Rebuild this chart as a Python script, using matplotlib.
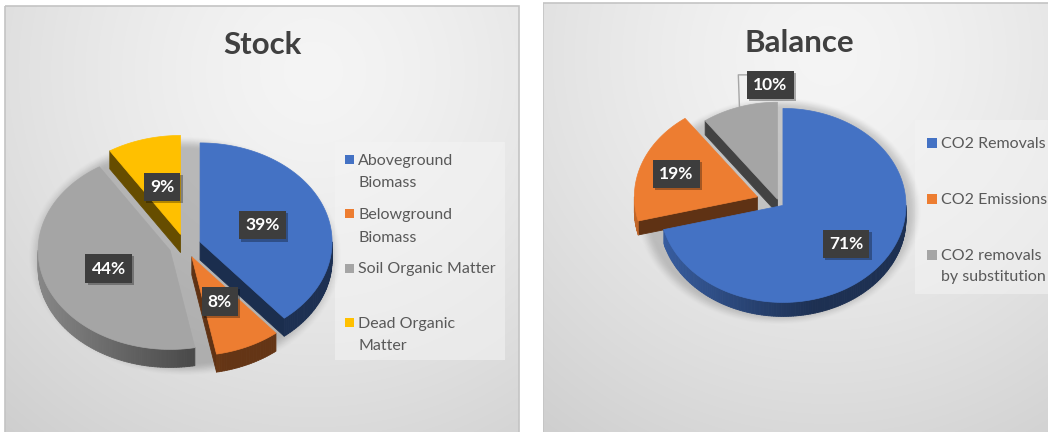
import numpy as np
import matplotlib
matplotlib.use('Agg')
import matplotlib.pyplot as plt
from matplotlib.patches import Polygon, Rectangle
from matplotlib.collections import PolyCollection
from matplotlib.colors import to_rgb
import matplotlib.patheffects as pe

# ---------------- data ----------------
stock_title = 'Stock'
stock_labels = ['Aboveground\nBiomass', 'Belowground\nBiomass',
                'Soil Organic Matter', 'Dead Organic\nMatter']
stock_values = [39, 8, 44, 9]

balance_title = 'Balance'
balance_labels = ['CO2 Removals', 'CO2 Emissions', 'CO2 removals\nby substitution']
balance_values = [71, 19, 10]

palette = ['#4472C4', '#ED7D31', '#A5A5A5', '#FFC000']

# ---------------- canvas ----------------
W, H = 1048, 432
FONT = ['Lato', 'DejaVu Sans']
fig = plt.figure(figsize=(W / 100, H / 100), dpi=100)
ax = fig.add_axes([0, 0, 1, 1])
ax.axis('off')


def panel_bg(x0, x1, y0, y1, cxf, cyf):
    nx, ny = int(x1 - x0), int(y1 - y0)
    X, Y = np.meshgrid(np.linspace(0, 1, nx), np.linspace(0, 1, ny))
    w, h = x1 - x0, y1 - y0
    r = np.hypot((X - cxf) * w, (Y - cyf) * h) / np.hypot(w, h)
    t = np.clip(r / 0.8, 0, 1) ** 1.4
    light, dark = 0.96, 0.78
    v = light * (1 - t) + dark * t
    img = np.dstack([v, v, v])
    ax.imshow(img, extent=(x0, x1, y1, y0), origin='upper', zorder=0,
              interpolation='bilinear', aspect='auto')
    ax.add_patch(Rectangle((x0, y0), x1 - x0, y1 - y0, fill=False,
                           ec='#c4c4c4', lw=1.2, zorder=1))


def soft_shadow(cx, cy, rx, ry, spread, alpha, z):
    pad = spread * 2
    x0, x1 = cx - rx - pad, cx + rx + pad
    y0, y1 = cy - ry - pad, cy + ry + pad
    nx, ny = int(x1 - x0), int(y1 - y0)
    X, Y = np.meshgrid(np.linspace(x0, x1, nx), np.linspace(y0, y1, ny))
    d = np.hypot((X - cx) / rx, (Y - cy) / ry)
    dist = (d - 1) * min(rx, ry)
    s = np.clip(1 - dist / spread, 0, 1)
    s = s * s * (3 - 2 * s)
    img = np.zeros((ny, nx, 4))
    img[..., 3] = alpha * s
    ax.imshow(img, extent=(x0, x1, y1, y0), origin='upper', zorder=z,
              interpolation='bilinear', aspect='auto')


def draw_pie3d(values, cols, cx, cy, rx, ry, depth, explode):
    vals = np.asarray(values, float)
    fr = vals / vals.sum()
    edges = np.concatenate([[0], np.cumsum(fr)]) * 2 * np.pi
    slices = []
    for i, (a0, a1) in enumerate(zip(edges[:-1], edges[1:])):
        mid = (a0 + a1) / 2
        px = cx + explode[i] * np.sin(mid)
        py = cy - explode[i] * np.cos(mid) * ry / rx
        slices.append((a0, a1, mid, px, py))

    side_items = []
    for i, (a0, a1, mid, px, py) in enumerate(slices):
        base = np.array(to_rgb(cols[i]))
        for th, vis in ((a0, np.sin(a0) < -1e-9), (a1, np.sin(a1) > 1e-9)):
            if vis:
                ex, ey = px + rx * np.sin(th), py - ry * np.cos(th)
                poly = [(px, py), (ex, ey), (ex, ey + depth), (px, py + depth)]
                side_items.append(((py + ey) / 2, poly, base * 0.40))
        lo, hi = max(a0, np.pi / 2), min(a1, 1.5 * np.pi)
        if hi > lo:
            n = max(2, int((hi - lo) / 0.02))
            ths = np.linspace(lo, hi, n + 1)
            for t0, t1 in zip(ths[:-1], ths[1:]):
                xA, yA = px + rx * np.sin(t0), py - ry * np.cos(t0)
                xB, yB = px + rx * np.sin(t1), py - ry * np.cos(t1)
                poly = [(xA, yA), (xB, yB), (xB, yB + depth), (xA, yA + depth)]
                f = max(0.42, 0.5 - 0.32 * np.sin((t0 + t1) / 2))
                side_items.append(((yA + yB) / 2, poly, np.clip(base * f, 0, 1)))

    side_items.sort(key=lambda s: s[0])
    pc = PolyCollection([s[1] for s in side_items],
                        facecolors=[s[2] for s in side_items],
                        edgecolors=[s[2] for s in side_items],
                        linewidths=0.6, zorder=4)
    ax.add_collection(pc)

    for i, (a0, a1, mid, px, py) in enumerate(slices):
        ths = np.linspace(a0, a1, max(3, int((a1 - a0) / 0.01)))
        pts = [(px, py)] + [(px + rx * np.sin(t), py - ry * np.cos(t)) for t in ths]
        ax.add_patch(Polygon(pts, closed=True, fc=cols[i], ec=cols[i],
                             lw=0.5, zorder=5))
    return slices, fr


def value_label(x, y, txt):
    t = ax.text(x, y, txt, ha='center', va='center', fontsize=12.5,
                fontweight='bold', family=FONT, color='white', zorder=8,
                bbox=dict(boxstyle='square,pad=0.36', fc='#3d3d3d', ec='none'))
    t.get_bbox_patch().set_path_effects(
        [pe.SimplePatchShadow(offset=(1.5, -1.5), shadow_rgbFace='black',
                              alpha=0.3), pe.Normal()])
    return t


def legend(box, mx, base0, slot, labels, cols, msize, lead=22.5):
    bx0, by0, bx1, by1 = box
    ax.add_patch(Rectangle((bx0, by0), bx1 - bx0, by1 - by0, fc='#f4f4f4',
                           ec='none', alpha=0.55, zorder=2))
    for i, (lab, c) in enumerate(zip(labels, cols)):
        by = base0 + i * slot
        ax.add_patch(Rectangle((mx, by - 5.5 - msize / 2), msize, msize,
                               fc=c, ec='none', zorder=3))
        for j, line in enumerate(lab.split('\n')):
            ax.text(mx + msize + 4, by + j * lead, line, ha='left',
                    va='baseline', fontsize=11.5, color='#595959',
                    family=FONT, zorder=3)


# ---------------- Stock panel ----------------
panel_bg(5, 519, 6, 440, 0.6, 0.15)
ax.text(262, 54, stock_title, ha='center', va='baseline', fontsize=22.5,
        fontweight='bold', color='#404040', family=FONT, zorder=3)
s_cx, s_cy, s_rx, s_ry, s_d = 185, 246, 132, 99, 18
soft_shadow(s_cx, s_cy + 10, s_rx + 8, s_ry + 8, 14, 0.22, 3)
s_slices, s_fr = draw_pie3d(stock_values, palette, s_cx, s_cy, s_rx, s_ry,
                            s_d, [16, 16, 16, 16])
for (a0, a1, mid, px, py), f in zip(s_slices, s_fr):
    k = 0.5
    value_label(px + k * s_rx * np.sin(mid), py - k * s_ry * np.cos(mid),
                f'{f * 100:.0f}%')
legend((335, 142, 505, 360), 345, 164.5, 54.5, stock_labels, palette, 9)

# ---------------- Balance panel ----------------
panel_bg(543, 1060, 3, 440, 0.55, 0.12)
ax.text(799, 52, balance_title, ha='center', va='baseline', fontsize=22.5,
        fontweight='bold', color='#404040', family=FONT, zorder=3)
b_cx, b_cy, b_rx, b_ry, b_d = 779, 203, 123, 97, 14
soft_shadow(b_cx, b_cy + 8, b_rx + 6, b_ry + 6, 12, 0.18, 3)
b_slices, b_fr = draw_pie3d(balance_values, palette[:3], b_cx, b_cy, b_rx,
                            b_ry, b_d, [5, 23, 5])
b_k = [0.65, 0.7, 1.24]
b_shift = [0, 0, 40]
for i, ((a0, a1, mid, px, py), f) in enumerate(zip(b_slices, b_fr)):
    lx = px + b_k[i] * b_rx * np.sin(mid) + b_shift[i]
    ly = py - b_k[i] * b_ry * np.cos(mid)
    value_label(lx, ly, f'{f * 100:.0f}%')
    if b_k[i] > 1:
        ex, ey = px + b_rx * np.sin(mid), py - b_ry * np.cos(mid)
        ax.plot([lx - 24, lx - 32, ex], [ly - 10, ly - 10, ey], color='#a6a6a6',
                lw=1, zorder=6)
legend((915, 120, 1060, 294), 927, 148, 56, balance_labels, palette[:3], 10,
       lead=21.5)

# outer white gap between panels
ax.add_patch(Rectangle((519.6, 0), 23, H, fc='white', ec='none', zorder=1.5))
ax.set_xlim(0, W)
ax.set_ylim(H, 0)
fig.savefig('out.png', dpi=100, facecolor='white')
